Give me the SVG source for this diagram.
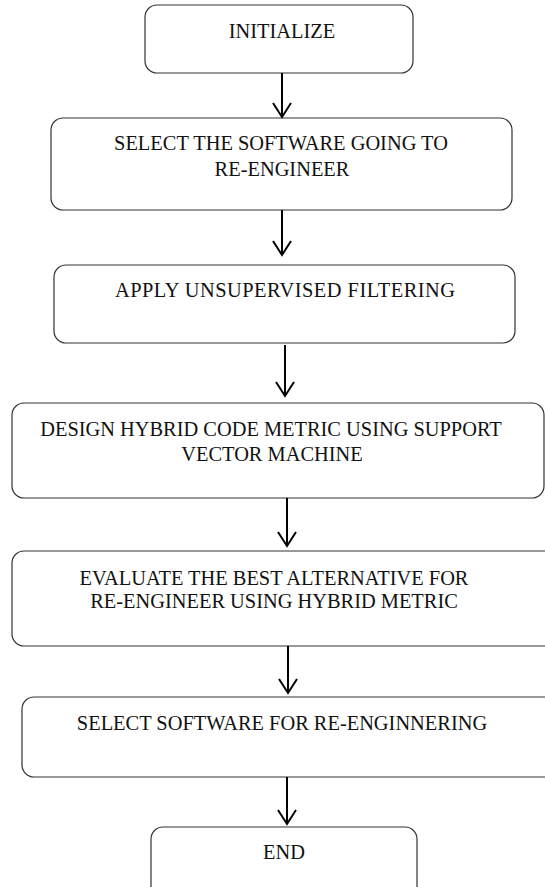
<svg xmlns="http://www.w3.org/2000/svg" width="545" height="887" viewBox="0 0 545 887">
<style>
.box{fill:#fff;stroke:#333;stroke-width:1.2}
.t{font-family:"Liberation Serif","Times New Roman",serif;font-size:20.4px;fill:#111;text-anchor:middle}
.c{fill:none;stroke:#000;stroke-width:2}
</style>
<rect width="545" height="887" fill="#fff"/>
<g id="n1"><rect class="box" x="145" y="5" width="268" height="68" rx="12"/><text class="t" x="282" y="38">INITIALIZE</text></g>
<g id="n2"><rect class="box" x="51" y="118" width="461" height="92" rx="12"/><text class="t" x="281" y="150">SELECT THE SOFTWARE GOING TO</text><text class="t" x="282" y="176">RE-ENGINEER</text></g>
<g id="n3"><rect class="box" x="54" y="265" width="461" height="78" rx="12"/><text class="t" x="285" y="297" textLength="340" lengthAdjust="spacing">APPLY UNSUPERVISED FILTERING</text></g>
<g id="n4"><rect class="box" x="12" y="403" width="532" height="95" rx="12"/><text class="t" x="271" y="436">DESIGN HYBRID CODE METRIC USING SUPPORT</text><text class="t" x="272" y="461">VECTOR MACHINE</text></g>
<g id="n5"><rect class="box" x="12" y="551" width="560" height="95" rx="12"/><text class="t" x="274" y="585">EVALUATE THE BEST ALTERNATIVE FOR</text><text class="t" x="274" y="608">RE-ENGINEER USING HYBRID METRIC</text></g>
<g id="n6"><rect class="box" x="22" y="697" width="560" height="80" rx="12"/><text class="t" x="282" y="730">SELECT SOFTWARE FOR RE-ENGINNERING</text></g>
<g id="n7"><rect class="box" x="151" y="827" width="266" height="80" rx="12"/><text class="t" x="284" y="859">END</text></g>
<g id="connectors">
<path class="c" d="M282 73V117M273 103L282 117L291 103"/>
<path class="c" d="M282 210V255M273 241L282 255L291 241"/>
<path class="c" d="M285 345V396M276 382L285 396L294 382"/>
<path class="c" d="M287 498V546M278 532L287 546L296 532"/>
<path class="c" d="M288 646V693M279 679L288 693L297 679"/>
<path class="c" d="M287 777V824M278 810L287 824L296 810"/>
</g>
</svg>
